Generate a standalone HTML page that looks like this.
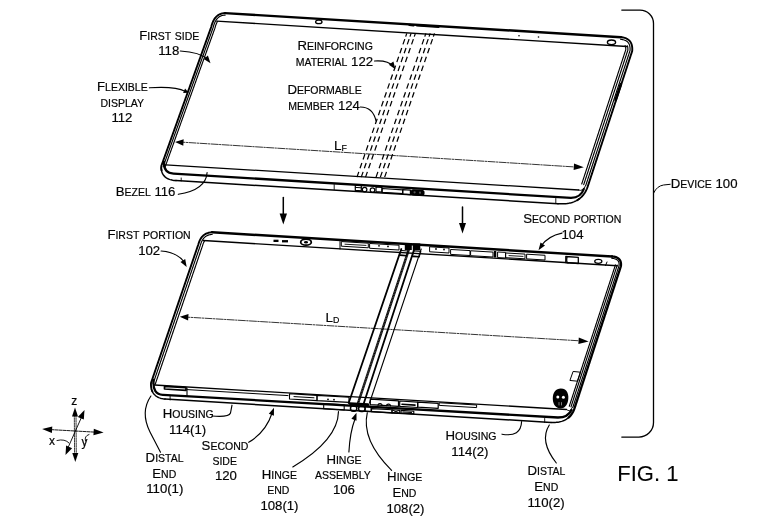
<!DOCTYPE html>
<html><head><meta charset="utf-8"><style>
html,body{margin:0;padding:0;background:#fff;}
svg{display:block;filter:grayscale(1);}
text{font-family:"Liberation Sans", sans-serif;}
</style></head><body>
<svg width="780" height="520" viewBox="0 0 780 520">
<g fill="none" stroke="#000" stroke-linecap="round" stroke-linejoin="round">
<path d="M161.51,170.29 L161.39,169.49 L161.31,168.66 L161.27,167.80 L161.26,166.92 L161.30,166.00 L161.64,165.05 L161.98,164.11 L162.32,163.16 L162.66,162.22 L163.00,161.27 L163.34,160.33 L163.68,159.38 L164.02,158.44 L164.36,157.49 L164.69,156.54 L165.03,155.60 L165.37,154.65 L165.71,153.71 L166.05,152.76 L166.39,151.82 L166.73,150.87 L167.07,149.93 L167.41,148.98 L167.75,148.03 L168.09,147.09 L168.43,146.14 L168.77,145.20 L169.11,144.25 L169.45,143.31 L169.79,142.36 L170.13,141.41 L170.47,140.47 L170.80,139.52 L171.14,138.58 L171.48,137.63 L171.82,136.69 L172.16,135.74 L172.50,134.80 L172.84,133.85 L173.18,132.90 L173.52,131.96 L173.86,131.01 L174.20,130.07 L174.54,129.12 L174.88,128.18 L175.22,127.23 L175.56,126.29 L175.90,125.34 L176.24,124.39 L176.58,123.45 L176.91,122.50 L177.25,121.56 L177.59,120.61 L177.93,119.67 L178.27,118.72 L178.61,117.78 L178.95,116.83 L179.29,115.88 L179.63,114.94 L179.97,113.99 L180.31,113.05 L180.65,112.10 L180.99,111.16 L181.33,110.21 L181.67,109.27 L182.01,108.32 L182.35,107.37 L182.69,106.43 L183.03,105.48 L183.36,104.54 L183.70,103.59 L184.04,102.65 L184.38,101.70 L184.72,100.76 L185.06,99.81 L185.40,98.86 L185.74,97.92 L186.08,96.97 L186.42,96.03 L186.76,95.08 L187.10,94.14 L187.44,93.19 L187.78,92.24 L188.12,91.30 L188.46,90.35 L188.80,89.41 L189.14,88.46 L189.47,87.52 L189.81,86.57 L190.15,85.63 L190.49,84.68 L190.83,83.73 L191.17,82.79 L191.51,81.84 L191.85,80.90 L192.19,79.95 L192.53,79.01 L192.87,78.06 L193.21,77.12 L193.55,76.17 L193.89,75.22 L194.23,74.28 L194.57,73.33 L194.91,72.39 L195.25,71.44 L195.59,70.50 L195.92,69.55 L196.26,68.61 L196.60,67.66 L196.94,66.71 L197.28,65.77 L197.62,64.82 L197.96,63.88 L198.30,62.93 L198.64,61.99 L198.98,61.04 L199.32,60.10 L199.66,59.15 L200.00,58.20 L200.34,57.26 L200.68,56.31 L201.02,55.37 L201.36,54.42 L201.70,53.48 L202.03,52.53 L202.37,51.59 L202.71,50.64 L203.05,49.69 L203.39,48.75 L203.73,47.80 L204.07,46.86 L204.41,45.91 L204.75,44.97 L205.09,44.02 L205.43,43.07 L205.77,42.13 L206.11,41.18 L206.45,40.24 L206.79,39.29 L207.13,38.35 L207.47,37.40 L207.81,36.46 L208.14,35.51 L208.48,34.56 L208.82,33.62 L209.16,32.67 L209.50,31.73 L209.84,30.78 L210.18,29.84 L210.52,28.89 L210.86,27.95 L211.20,27.00 L211.49,25.88 L211.80,24.81 L212.14,23.79 L212.50,22.81 L212.89,21.88 L213.30,20.99 L213.74,20.16 L214.20,19.37 L214.69,18.62 L215.20,17.93 L215.74,17.28 L216.30,16.68 L216.89,16.12 L217.50,15.61 L218.14,15.15 L218.80,14.73 L219.49,14.37 L220.20,14.04 L220.94,13.77 L221.70,13.54 L222.49,13.36 L223.30,13.23 L224.14,13.14 L225.00,13.10" stroke-width="1.9" />
<path d="M225,13.1 L621,37.2" stroke-width="2.4" />
<path d="M621.00,37.20 L621.99,37.31 L622.94,37.46 L623.84,37.66 L624.70,37.89 L625.51,38.16 L626.28,38.48 L626.99,38.83 L627.67,39.22 L628.29,39.66 L628.87,40.13 L629.41,40.65 L629.90,41.20 L630.34,41.80 L630.74,42.43 L631.09,43.11 L631.40,43.82 L631.66,44.58 L631.88,45.38 L632.04,46.21 L632.17,47.09 L632.24,48.01 L632.27,48.96 L632.26,49.96 L632.20,51.00 L631.89,51.95 L631.58,52.90 L631.26,53.85 L630.95,54.80 L630.64,55.75 L630.33,56.70 L630.02,57.65 L629.70,58.61 L629.39,59.56 L629.08,60.51 L628.77,61.46 L628.46,62.41 L628.14,63.36 L627.83,64.31 L627.52,65.26 L627.21,66.21 L626.90,67.16 L626.58,68.11 L626.27,69.06 L625.96,70.01 L625.65,70.96 L625.34,71.92 L625.02,72.87 L624.71,73.82 L624.40,74.77 L624.09,75.72 L623.78,76.67 L623.46,77.62 L623.15,78.57 L622.84,79.52 L622.53,80.47 L622.22,81.42 L621.90,82.37 L621.59,83.32 L621.28,84.27 L620.97,85.23 L620.66,86.18 L620.35,87.13 L620.03,88.08 L619.72,89.03 L619.41,89.98 L619.10,90.93 L618.79,91.88 L618.47,92.83 L618.16,93.78 L617.85,94.73 L617.54,95.68 L617.23,96.63 L616.91,97.58 L616.60,98.54 L616.29,99.49 L615.98,100.44 L615.67,101.39 L615.35,102.34 L615.04,103.29 L614.73,104.24 L614.42,105.19 L614.11,106.14 L613.79,107.09 L613.48,108.04 L613.17,108.99 L612.86,109.94 L612.55,110.89 L612.23,111.85 L611.92,112.80 L611.61,113.75 L611.30,114.70 L610.99,115.65 L610.67,116.60 L610.36,117.55 L610.05,118.50 L609.74,119.45 L609.43,120.40 L609.11,121.35 L608.80,122.30 L608.49,123.25 L608.18,124.20 L607.87,125.15 L607.55,126.11 L607.24,127.06 L606.93,128.01 L606.62,128.96 L606.31,129.91 L605.99,130.86 L605.68,131.81 L605.37,132.76 L605.06,133.71 L604.75,134.66 L604.43,135.61 L604.12,136.56 L603.81,137.51 L603.50,138.46 L603.19,139.42 L602.87,140.37 L602.56,141.32 L602.25,142.27 L601.94,143.22 L601.63,144.17 L601.31,145.12 L601.00,146.07 L600.69,147.02 L600.38,147.97 L600.07,148.92 L599.75,149.87 L599.44,150.82 L599.13,151.77 L598.82,152.73 L598.51,153.68 L598.20,154.63 L597.88,155.58 L597.57,156.53 L597.26,157.48 L596.95,158.43 L596.64,159.38 L596.32,160.33 L596.01,161.28 L595.70,162.23 L595.39,163.18 L595.08,164.13 L594.76,165.08 L594.45,166.04 L594.14,166.99 L593.83,167.94 L593.52,168.89 L593.20,169.84 L592.89,170.79 L592.58,171.74 L592.27,172.69 L591.96,173.64 L591.64,174.59 L591.33,175.54 L591.02,176.49 L590.71,177.44 L590.40,178.39 L590.08,179.35 L589.77,180.30 L589.46,181.25 L589.15,182.20 L588.84,183.15 L588.52,184.10 L588.21,185.05 L587.90,186.00 L587.60,186.88 L587.28,187.73 L586.95,188.56 L586.60,189.37 L586.22,190.16 L585.84,190.92 L585.43,191.67 L585.01,192.39 L584.57,193.09 L584.11,193.76 L583.63,194.42 L583.14,195.05 L582.63,195.66 L582.10,196.25 L581.55,196.82 L580.98,197.37 L580.40,197.89 L579.80,198.39 L579.18,198.87 L578.55,199.33 L577.90,199.76 L577.23,200.18" stroke-width="1.9" />
<path d="M176,180.6 L558,203.7" stroke-width="1.5" />
<path d="M176.00,180.60 L174.95,180.51 L173.94,180.39 L172.97,180.24 L172.03,180.06 L171.14,179.85 L170.28,179.61 L169.47,179.35 L168.69,179.05 L167.95,178.72 L167.25,178.37 L166.59,177.98 L165.96,177.57 L165.38,177.12 L164.83,176.65 L164.33,176.14 L163.86,175.61 L163.43,175.05 L163.04,174.46 L162.69,173.84 L162.37,173.19 L162.10,172.50 L161.86,171.79 L161.67,171.06 L161.51,170.29 L161.39,169.49 L161.31,168.66 L161.27,167.80" stroke-width="1.5" />
<path d="M579.18,198.87 L578.55,199.33 L577.90,199.76 L577.23,200.18 L576.54,200.57 L575.83,200.94 L575.11,201.28 L574.37,201.61 L573.61,201.91 L572.83,202.19 L572.04,202.45 L571.22,202.69 L570.39,202.90 L569.55,203.10 L568.68,203.27 L567.80,203.42 L566.90,203.55 L565.98,203.65 L565.04,203.73 L564.09,203.79 L563.12,203.83 L562.13,203.85 L561.13,203.85 L560.10,203.82 L559.06,203.77 L558.00,203.70" stroke-width="1.5" />
<path d="M163.18,166.68 L163.52,165.73 L163.86,164.78 L164.20,163.84 L164.54,162.89 L164.88,161.95 L165.22,161.00 L165.56,160.06 L165.90,159.11 L166.24,158.17 L166.58,157.22 L166.92,156.27 L167.26,155.33 L167.60,154.38 L167.93,153.44 L168.27,152.49 L168.61,151.55 L168.95,150.60 L169.29,149.66 L169.63,148.71 L169.97,147.76 L170.31,146.82 L170.65,145.87 L170.99,144.93 L171.33,143.98 L171.67,143.04 L172.01,142.09 L172.35,141.15 L172.69,140.20 L173.03,139.25 L173.37,138.31 L173.71,137.36 L174.04,136.42 L174.38,135.47 L174.72,134.53 L175.06,133.58 L175.40,132.63 L175.74,131.69 L176.08,130.74 L176.42,129.80 L176.76,128.85 L177.10,127.91 L177.44,126.96 L177.78,126.02 L178.12,125.07 L178.46,124.12 L178.80,123.18 L179.14,122.23 L179.48,121.29 L179.82,120.34 L180.16,119.40 L180.49,118.45 L180.83,117.51 L181.17,116.56 L181.51,115.61 L181.85,114.67 L182.19,113.72 L182.53,112.78 L182.87,111.83 L183.21,110.89 L183.55,109.94 L183.89,109.00 L184.23,108.05 L184.57,107.10 L184.91,106.16 L185.25,105.21 L185.59,104.27 L185.93,103.32 L186.27,102.38 L186.60,101.43 L186.94,100.49 L187.28,99.54 L187.62,98.59 L187.96,97.65 L188.30,96.70 L188.64,95.76 L188.98,94.81 L189.32,93.87 L189.66,92.92 L190.00,91.98 L190.34,91.03 L190.68,90.08 L191.02,89.14 L191.36,88.19 L191.70,87.25 L192.04,86.30 L192.38,85.36 L192.72,84.41 L193.05,83.46 L193.39,82.52 L193.73,81.57 L194.07,80.63 L194.41,79.68 L194.75,78.74 L195.09,77.79 L195.43,76.85 L195.77,75.90 L196.11,74.95 L196.45,74.01 L196.79,73.06 L197.13,72.12 L197.47,71.17 L197.81,70.23 L198.15,69.28 L198.49,68.34 L198.83,67.39 L199.16,66.44 L199.50,65.50 L199.84,64.55 L200.18,63.61 L200.52,62.66 L200.86,61.72 L201.20,60.77 L201.54,59.83 L201.88,58.88 L202.22,57.93 L202.56,56.99 L202.90,56.04 L203.24,55.10 L203.58,54.15 L203.92,53.21 L204.26,52.26 L204.60,51.32 L204.94,50.37 L205.27,49.42 L205.61,48.48 L205.95,47.53 L206.29,46.59 L206.63,45.64 L206.97,44.70 L207.31,43.75 L207.65,42.81 L207.99,41.86 L208.33,40.91 L208.67,39.97 L209.01,39.02 L209.35,38.08 L209.69,37.13 L210.03,36.19 L210.37,35.24 L210.71,34.29 L211.05,33.35 L211.39,32.40 L211.72,31.46 L212.06,30.51 L212.40,29.57 L212.76,28.57 L213.11,27.60 L213.40,26.47 L213.71,25.40 L214.03,24.45 L214.36,23.54 L214.72,22.68 L215.09,21.88 L215.49,21.12 L215.90,20.42 L216.33,19.76 L216.78,19.16 L217.24,18.60 L217.72,18.08 L218.21,17.62 L218.73,17.19 L219.26,16.81 L219.80,16.46 L220.37,16.16 L220.96,15.89 L221.57,15.67 L222.21,15.48 L222.87,15.32 L223.57,15.21 L224.34,15.13 L225.15,15.09" stroke-width="1.15" />
<path d="M164.97,167.32 L165.31,166.37 L165.65,165.43 L165.99,164.48 L166.33,163.54 L166.67,162.59 L167.01,161.64 L167.35,160.70 L167.69,159.75 L168.03,158.81 L168.37,157.86 L168.70,156.92 L169.04,155.97 L169.38,155.03 L169.72,154.08 L170.06,153.13 L170.40,152.19 L170.74,151.24 L171.08,150.30 L171.42,149.35 L171.76,148.41 L172.10,147.46 L172.44,146.52 L172.78,145.57 L173.12,144.62 L173.46,143.68 L173.80,142.73 L174.14,141.79 L174.48,140.84 L174.81,139.90 L175.15,138.95 L175.49,138.00 L175.83,137.06 L176.17,136.11 L176.51,135.17 L176.85,134.22 L177.19,133.28 L177.53,132.33 L177.87,131.39 L178.21,130.44 L178.55,129.49 L178.89,128.55 L179.23,127.60 L179.57,126.66 L179.91,125.71 L180.25,124.77 L180.59,123.82 L180.93,122.88 L181.26,121.93 L181.60,120.98 L181.94,120.04 L182.28,119.09 L182.62,118.15 L182.96,117.20 L183.30,116.26 L183.64,115.31 L183.98,114.37 L184.32,113.42 L184.66,112.47 L185.00,111.53 L185.34,110.58 L185.68,109.64 L186.02,108.69 L186.36,107.75 L186.70,106.80 L187.04,105.86 L187.37,104.91 L187.71,103.96 L188.05,103.02 L188.39,102.07 L188.73,101.13 L189.07,100.18 L189.41,99.24 L189.75,98.29 L190.09,97.34 L190.43,96.40 L190.77,95.45 L191.11,94.51 L191.45,93.56 L191.79,92.62 L192.13,91.67 L192.47,90.73 L192.81,89.78 L193.15,88.83 L193.48,87.89 L193.82,86.94 L194.16,86.00 L194.50,85.05 L194.84,84.11 L195.18,83.16 L195.52,82.22 L195.86,81.27 L196.20,80.32 L196.54,79.38 L196.88,78.43 L197.22,77.49 L197.56,76.54 L197.90,75.60 L198.24,74.65 L198.58,73.71 L198.92,72.76 L199.26,71.81 L199.60,70.87 L199.93,69.92 L200.27,68.98 L200.61,68.03 L200.95,67.09 L201.29,66.14 L201.63,65.20 L201.97,64.25 L202.31,63.30 L202.65,62.36 L202.99,61.41 L203.33,60.47 L203.67,59.52 L204.01,58.58 L204.35,57.63 L204.69,56.69 L205.03,55.74 L205.37,54.79 L205.71,53.85 L206.04,52.90 L206.38,51.96 L206.72,51.01 L207.06,50.07 L207.40,49.12 L207.74,48.17 L208.08,47.23 L208.42,46.28 L208.76,45.34 L209.10,44.39 L209.44,43.45 L209.78,42.50 L210.12,41.56 L210.46,40.61 L210.80,39.66 L211.14,38.72 L211.48,37.77 L211.82,36.83 L212.15,35.88 L212.49,34.94 L212.83,33.99 L213.17,33.05 L213.51,32.10 L213.85,31.15 L214.19,30.21 L214.56,29.17 L214.92,28.17 L215.22,27.03 L215.52,25.97 L215.82,25.07 L216.13,24.23 L216.46,23.45 L216.80,22.72 L217.15,22.04 L217.52,21.42" stroke-width="1.15" />
<path d="M620.70,39.38 L621.65,39.48 L622.54,39.63 L623.33,39.79 L624.06,39.99 L624.74,40.22 L625.37,40.48 L625.95,40.77 L626.49,41.08 L626.97,41.41 L627.42,41.78 L627.82,42.17 L628.19,42.59 L628.53,43.04 L628.83,43.52 L629.11,44.05 L629.35,44.61 L629.56,45.22 L629.73,45.88 L629.87,46.58 L629.98,47.33 L630.05,48.13 L630.08,48.98 L630.07,49.76 L630.03,50.62 L629.76,51.40 L629.49,52.22 L629.17,53.17 L628.86,54.12 L628.55,55.07 L628.24,56.02 L627.93,56.97 L627.61,57.92 L627.30,58.87 L626.99,59.82 L626.68,60.77 L626.37,61.72 L626.05,62.67 L625.74,63.62 L625.43,64.57 L625.12,65.53 L624.81,66.48 L624.49,67.43 L624.18,68.38 L623.87,69.33 L623.56,70.28 L623.25,71.23 L622.93,72.18 L622.62,73.13 L622.31,74.08 L622.00,75.03 L621.69,75.98 L621.37,76.93 L621.06,77.88 L620.75,78.84 L620.44,79.79 L620.13,80.74 L619.81,81.69 L619.50,82.64 L619.19,83.59 L618.88,84.54 L618.57,85.49 L618.25,86.44 L617.94,87.39 L617.63,88.34 L617.32,89.29 L617.01,90.24 L616.69,91.19 L616.38,92.15 L616.07,93.10 L615.76,94.05 L615.45,95.00 L615.14,95.95 L614.82,96.90 L614.51,97.85 L614.20,98.80 L613.89,99.75 L613.58,100.70 L613.26,101.65 L612.95,102.60 L612.64,103.55 L612.33,104.50 L612.02,105.45 L611.70,106.41 L611.39,107.36 L611.08,108.31 L610.77,109.26 L610.46,110.21 L610.14,111.16 L609.83,112.11 L609.52,113.06 L609.21,114.01 L608.90,114.96 L608.58,115.91 L608.27,116.86 L607.96,117.81 L607.65,118.76 L607.34,119.72 L607.02,120.67 L606.71,121.62 L606.40,122.57 L606.09,123.52 L605.78,124.47 L605.46,125.42 L605.15,126.37 L604.84,127.32 L604.53,128.27 L604.22,129.22 L603.90,130.17 L603.59,131.12 L603.28,132.07 L602.97,133.03 L602.66,133.98 L602.34,134.93 L602.03,135.88 L601.72,136.83 L601.41,137.78 L601.10,138.73 L600.78,139.68 L600.47,140.63 L600.16,141.58 L599.85,142.53 L599.54,143.48 L599.22,144.43 L598.91,145.38 L598.60,146.34 L598.29,147.29 L597.98,148.24 L597.66,149.19 L597.35,150.14 L597.04,151.09 L596.73,152.04 L596.42,152.99 L596.10,153.94 L595.79,154.89 L595.48,155.84 L595.17,156.79 L594.86,157.74 L594.54,158.69 L594.23,159.65 L593.92,160.60 L593.61,161.55 L593.30,162.50 L592.99,163.45 L592.67,164.40 L592.36,165.35 L592.05,166.30 L591.74,167.25 L591.43,168.20 L591.11,169.15 L590.80,170.10 L590.49,171.05 L590.18,172.00 L589.87,172.95 L589.55,173.91 L589.24,174.86 L588.93,175.81 L588.62,176.76 L588.31,177.71 L587.99,178.66 L587.68,179.61 L587.37,180.56 L587.06,181.51 L586.75,182.46 L586.43,183.41 L586.12,184.36 L585.81,185.31" stroke-width="1.15" />
<path d="M627.45,45.87 L627.59,46.38 L627.71,46.95 L627.79,47.58 L627.85,48.26 L627.88,49.00 L627.88,49.57 L627.87,50.23 L627.63,50.86 L627.40,51.53 L627.08,52.48 L626.77,53.43 L626.46,54.38 L626.15,55.33 L625.84,56.28 L625.52,57.23 L625.21,58.18 L624.90,59.14 L624.59,60.09 L624.28,61.04 L623.96,61.99 L623.65,62.94 L623.34,63.89 L623.03,64.84 L622.72,65.79 L622.40,66.74 L622.09,67.69 L621.78,68.64 L621.47,69.59 L621.16,70.54 L620.84,71.49 L620.53,72.45 L620.22,73.40 L619.91,74.35 L619.60,75.30 L619.28,76.25 L618.97,77.20 L618.66,78.15 L618.35,79.10 L618.04,80.05 L617.72,81.00 L617.41,81.95 L617.10,82.90 L616.79,83.85 L616.48,84.80 L616.16,85.75 L615.85,86.71 L615.54,87.66 L615.23,88.61 L614.92,89.56 L614.60,90.51 L614.29,91.46 L613.98,92.41 L613.67,93.36 L613.36,94.31 L613.04,95.26 L612.73,96.21 L612.42,97.16 L612.11,98.11 L611.80,99.06 L611.48,100.02 L611.17,100.97 L610.86,101.92 L610.55,102.87 L610.24,103.82 L609.92,104.77 L609.61,105.72 L609.30,106.67 L608.99,107.62 L608.68,108.57 L608.37,109.52 L608.05,110.47 L607.74,111.42 L607.43,112.37 L607.12,113.33 L606.81,114.28 L606.49,115.23 L606.18,116.18 L605.87,117.13 L605.56,118.08 L605.25,119.03 L604.93,119.98 L604.62,120.93 L604.31,121.88 L604.00,122.83 L603.69,123.78 L603.37,124.73 L603.06,125.68 L602.75,126.64 L602.44,127.59 L602.13,128.54 L601.81,129.49 L601.50,130.44 L601.19,131.39 L600.88,132.34 L600.57,133.29 L600.25,134.24 L599.94,135.19 L599.63,136.14 L599.32,137.09 L599.01,138.04 L598.69,138.99 L598.38,139.95 L598.07,140.90 L597.76,141.85 L597.45,142.80 L597.13,143.75 L596.82,144.70 L596.51,145.65 L596.20,146.60 L595.89,147.55 L595.57,148.50 L595.26,149.45 L594.95,150.40 L594.64,151.35 L594.33,152.30 L594.01,153.25 L593.70,154.21 L593.39,155.16 L593.08,156.11 L592.77,157.06 L592.45,158.01 L592.14,158.96 L591.83,159.91 L591.52,160.86 L591.21,161.81 L590.89,162.76 L590.58,163.71 L590.27,164.66 L589.96,165.61 L589.65,166.56 L589.33,167.52 L589.02,168.47 L588.71,169.42 L588.40,170.37 L588.09,171.32 L587.77,172.27 L587.46,173.22 L587.15,174.17 L586.84,175.12 L586.53,176.07 L586.22,177.02 L585.90,177.97 L585.59,178.92 L585.28,179.87 L584.97,180.83 L584.66,181.78 L584.34,182.73 L584.03,183.68 L583.72,184.63" stroke-width="1.15" />
<path d="M625.10,45.66 L625.22,45.89 L625.33,46.16 L625.44,46.48 L625.55,46.86 L625.64,47.30 L625.71,47.81 L625.75,48.38 L625.78,49.02 L625.79,49.38 L625.80,49.86 L625.59,50.34 L625.40,50.87 L625.09,51.83 L624.78,52.78 L624.46,53.73 L624.15,54.68 L623.84,55.63 L623.53,56.58 L623.22,57.53 L622.90,58.48 L622.59,59.43 L622.28,60.38 L621.97,61.33 L621.66,62.28 L621.34,63.23 L621.03,64.18 L620.72,65.14 L620.41,66.09 L620.10,67.04 L619.78,67.99 L619.47,68.94 L619.16,69.89 L618.85,70.84 L618.54,71.79 L618.22,72.74 L617.91,73.69 L617.60,74.64 L617.29,75.59 L616.98,76.54 L616.66,77.49 L616.35,78.45 L616.04,79.40 L615.73,80.35 L615.42,81.30 L615.11,82.25 L614.79,83.20 L614.48,84.15 L614.17,85.10 L613.86,86.05 L613.55,87.00 L613.23,87.95 L612.92,88.90 L612.61,89.85 L612.30,90.80 L611.99,91.76 L611.67,92.71 L611.36,93.66 L611.05,94.61 L610.74,95.56 L610.43,96.51 L610.11,97.46 L609.80,98.41 L609.49,99.36 L609.18,100.31 L608.87,101.26 L608.55,102.21 L608.24,103.16 L607.93,104.11 L607.62,105.06 L607.31,106.02 L606.99,106.97 L606.68,107.92 L606.37,108.87 L606.06,109.82 L605.75,110.77 L605.43,111.72 L605.12,112.67 L604.81,113.62 L604.50,114.57 L604.19,115.52 L603.87,116.47 L603.56,117.42 L603.25,118.37 L602.94,119.33 L602.63,120.28 L602.31,121.23 L602.00,122.18 L601.69,123.13 L601.38,124.08 L601.07,125.03 L600.75,125.98 L600.44,126.93 L600.13,127.88 L599.82,128.83 L599.51,129.78 L599.19,130.73 L598.88,131.68 L598.57,132.64 L598.26,133.59 L597.95,134.54 L597.63,135.49 L597.32,136.44 L597.01,137.39 L596.70,138.34 L596.39,139.29 L596.07,140.24 L595.76,141.19 L595.45,142.14 L595.14,143.09 L594.83,144.04 L594.51,144.99 L594.20,145.95 L593.89,146.90 L593.58,147.85 L593.27,148.80 L592.96,149.75 L592.64,150.70 L592.33,151.65 L592.02,152.60 L591.71,153.55 L591.40,154.50 L591.08,155.45 L590.77,156.40 L590.46,157.35 L590.15,158.30 L589.84,159.26 L589.52,160.21 L589.21,161.16 L588.90,162.11 L588.59,163.06 L588.28,164.01 L587.96,164.96 L587.65,165.91 L587.34,166.86 L587.03,167.81 L586.72,168.76 L586.40,169.71 L586.09,170.66 L585.78,171.61 L585.47,172.56 L585.16,173.52 L584.84,174.47 L584.53,175.42 L584.22,176.37 L583.91,177.32 L583.60,178.27 L583.28,179.22 L582.97,180.17 L582.66,181.12 L582.35,182.07 L582.04,183.02 L581.72,183.97" stroke-width="1.15" />
<path d="M585.6,185.5 Q583.5,192 578.5,190" stroke-width="1.0" />
<path d="M620.9,84 L615.6,100" stroke-width="2.6" />
<path d="M216.8,21.1 L627,46.5" stroke-width="1.35" />
<path d="M165.5,164.8 L578.5,190" stroke-width="1.3" />
<path d="M164,162 Q163.5,173 173.5,173.6 L571,197.9 Q581,197.5 583.8,189" stroke-width="2.3" />
<line x1="181.2" y1="178" x2="181.2" y2="181" stroke-width="0.9" />
<line x1="555.8" y1="198.5" x2="555.8" y2="203.5" stroke-width="0.9" />
<line x1="334.2" y1="184.5" x2="334.2" y2="189.5" stroke-width="0.9" />
<ellipse cx="611.5" cy="42.3" rx="4.1" ry="2.3" fill="none" stroke-width="1.4"/>
<circle cx="538.5" cy="37" r="0.8" fill="#000" stroke="none"/>
<circle cx="519" cy="35.8" r="0.8" fill="#000" stroke="none"/>
<ellipse cx="318.8" cy="21.9" rx="3.2" ry="1.8" fill="none" stroke-width="1.3"/>
<path d="M409.5,24.8 L413.5,25.4 M417,25.3 L438.5,26.8" stroke-width="2.3" />
<rect x="410.6" y="189.6" width="14" height="6.2" rx="3" fill="#000" stroke="none" transform="rotate(3.6 417.6 192.7)"/>
<circle cx="414.6" cy="192.3" r="1.1" fill="#555" stroke="none"/><circle cx="420" cy="192.7" r="1.1" fill="#555" stroke="none"/>
<path d="M355.3,184.8 L361.3,185.2 L361.3,190.8 L355.3,190.4 Z" stroke-width="1.2" />
<line x1="355.3" y1="187.4" x2="361.3" y2="187.8" stroke-width="1.0" />
<circle cx="364.6" cy="189.6" r="2.3" fill="none" stroke-width="1.2"/>
<circle cx="372.5" cy="190.1" r="2.3" fill="none" stroke-width="1.2"/>
<path d="M376,187 L382,187.4 L382,192 L376,191.6 Z" stroke-width="1.2" />
<path d="M382,188.5 L402.7,189.8 L402.7,193.6 L382,192.3 Z" stroke-width="1.2" />
<path d="M402.7,189.7 L410.4,190.2 L410.4,194.6 L402.7,194.1 Z" stroke-width="1.2" />
<path d="M406.78,33.40 L405.67,36.60 M404.80,39.10 L402.96,44.40 M401.73,47.95 L399.90,53.25 M398.67,56.80 L396.83,62.10 M395.60,65.65 L393.76,70.95 M392.53,74.50 L390.70,79.80 M389.46,83.35 L387.63,88.65 M386.40,92.20 L384.56,97.50 M383.33,101.05 L381.49,106.35 M380.26,109.90 L378.43,115.20 M377.19,118.75 L375.36,124.05 M374.13,127.60 L372.29,132.90 M371.06,136.45 L369.22,141.75 M367.99,145.30 L366.16,150.60 M364.93,154.15 L363.09,159.45 M361.86,163.00 L360.02,168.30 M358.79,171.85 L356.95,177.15 M411.08,33.40 L409.97,36.60 M409.10,39.10 L407.26,44.40 M406.03,47.95 L404.20,53.25 M402.97,56.80 L401.13,62.10 M399.90,65.65 L398.06,70.95 M396.83,74.50 L395.00,79.80 M393.76,83.35 L391.93,88.65 M390.70,92.20 L388.86,97.50 M387.63,101.05 L385.79,106.35 M384.56,109.90 L382.73,115.20 M381.49,118.75 L379.66,124.05 M378.43,127.60 L376.59,132.90 M375.36,136.45 L373.52,141.75 M372.29,145.30 L370.46,150.60 M369.23,154.15 L367.39,159.45 M366.16,163.00 L364.32,168.30 M363.09,171.85 L361.25,177.15 M415.38,33.40 L414.27,36.60 M413.40,39.10 L411.56,44.40 M410.33,47.95 L408.50,53.25 M407.27,56.80 L405.43,62.10 M404.20,65.65 L402.36,70.95 M401.13,74.50 L399.30,79.80 M398.06,83.35 L396.23,88.65 M395.00,92.20 L393.16,97.50 M391.93,101.05 L390.09,106.35 M388.86,109.90 L387.03,115.20 M385.79,118.75 L383.96,124.05 M382.73,127.60 L380.89,132.90 M379.66,136.45 L377.82,141.75 M376.59,145.30 L374.76,150.60 M373.53,154.15 L371.69,159.45 M370.46,163.00 L368.62,168.30 M367.39,171.85 L365.55,177.15 M425.88,33.40 L424.77,36.60 M423.90,39.10 L422.06,44.40 M420.83,47.95 L419.00,53.25 M417.77,56.80 L415.93,62.10 M414.70,65.65 L412.86,70.95 M411.63,74.50 L409.80,79.80 M408.56,83.35 L406.73,88.65 M405.50,92.20 L403.66,97.50 M402.43,101.05 L400.59,106.35 M399.36,109.90 L397.53,115.20 M396.29,118.75 L394.46,124.05 M393.23,127.60 L391.39,132.90 M390.16,136.45 L388.32,141.75 M387.09,145.30 L385.26,150.60 M384.03,154.15 L382.19,159.45 M380.96,163.00 L379.12,168.30 M377.89,171.85 L376.05,177.15 M430.18,33.40 L429.07,36.60 M428.20,39.10 L426.36,44.40 M425.13,47.95 L423.30,53.25 M422.07,56.80 L420.23,62.10 M419.00,65.65 L417.16,70.95 M415.93,74.50 L414.10,79.80 M412.86,83.35 L411.03,88.65 M409.80,92.20 L407.96,97.50 M406.73,101.05 L404.89,106.35 M403.66,109.90 L401.83,115.20 M400.59,118.75 L398.76,124.05 M397.53,127.60 L395.69,132.90 M394.46,136.45 L392.62,141.75 M391.39,145.30 L389.56,150.60 M388.33,154.15 L386.49,159.45 M385.26,163.00 L383.42,168.30 M382.19,171.85 L380.35,177.15 M434.48,33.40 L433.37,36.60 M432.50,39.10 L430.66,44.40 M429.43,47.95 L427.60,53.25 M426.37,56.80 L424.53,62.10 M423.30,65.65 L421.46,70.95 M420.23,74.50 L418.40,79.80 M417.16,83.35 L415.33,88.65 M414.10,92.20 L412.26,97.50 M411.03,101.05 L409.19,106.35 M407.96,109.90 L406.13,115.20 M404.89,118.75 L403.06,124.05 M401.83,127.60 L399.99,132.90 M398.76,136.45 L396.92,141.75 M395.69,145.30 L393.86,150.60 M392.63,154.15 L390.79,159.45 M389.56,163.00 L387.72,168.30 M386.49,171.85 L384.65,177.15" stroke-width="1.25" stroke-linecap="butt"/>
<path d="M178,141.9 L577,167.1" stroke-width="0.8" stroke-dasharray="7 1.3 1.5 1.3"/>
<path d="M175.0,142.0 L183.7,139.2 L183.3,145.8 Z" fill="#000" stroke="none"/>
<path d="M583.8,167.3 L573.6,170.0 L574.0,163.4 Z" fill="#000" stroke="none"/>
<path d="M152.35,391.47 L152.05,390.76 L151.79,390.02 L151.56,389.25 L151.37,388.45 L151.22,387.62 L151.10,386.75 L151.02,385.86 L150.98,384.94 L150.97,383.98 L151.00,383.00 L151.32,382.05 L151.65,381.10 L151.97,380.15 L152.30,379.21 L152.62,378.26 L152.94,377.31 L153.27,376.36 L153.59,375.41 L153.92,374.46 L154.24,373.51 L154.56,372.57 L154.89,371.62 L155.21,370.67 L155.54,369.72 L155.86,368.77 L156.18,367.82 L156.51,366.87 L156.83,365.92 L157.16,364.98 L157.48,364.03 L157.80,363.08 L158.13,362.13 L158.45,361.18 L158.78,360.23 L159.10,359.28 L159.42,358.34 L159.75,357.39 L160.07,356.44 L160.40,355.49 L160.72,354.54 L161.04,353.59 L161.37,352.64 L161.69,351.70 L162.02,350.75 L162.34,349.80 L162.66,348.85 L162.99,347.90 L163.31,346.95 L163.63,346.00 L163.96,345.05 L164.28,344.11 L164.61,343.16 L164.93,342.21 L165.25,341.26 L165.58,340.31 L165.90,339.36 L166.23,338.41 L166.55,337.47 L166.87,336.52 L167.20,335.57 L167.52,334.62 L167.85,333.67 L168.17,332.72 L168.49,331.77 L168.82,330.83 L169.14,329.88 L169.47,328.93 L169.79,327.98 L170.11,327.03 L170.44,326.08 L170.76,325.13 L171.09,324.18 L171.41,323.24 L171.73,322.29 L172.06,321.34 L172.38,320.39 L172.71,319.44 L173.03,318.49 L173.35,317.54 L173.68,316.60 L174.00,315.65 L174.33,314.70 L174.65,313.75 L174.97,312.80 L175.30,311.85 L175.62,310.90 L175.95,309.96 L176.27,309.01 L176.59,308.06 L176.92,307.11 L177.24,306.16 L177.57,305.21 L177.89,304.26 L178.21,303.32 L178.54,302.37 L178.86,301.42 L179.19,300.47 L179.51,299.52 L179.83,298.57 L180.16,297.62 L180.48,296.67 L180.81,295.73 L181.13,294.78 L181.45,293.83 L181.78,292.88 L182.10,291.93 L182.43,290.98 L182.75,290.03 L183.07,289.09 L183.40,288.14 L183.72,287.19 L184.05,286.24 L184.37,285.29 L184.69,284.34 L185.02,283.39 L185.34,282.45 L185.67,281.50 L185.99,280.55 L186.31,279.60 L186.64,278.65 L186.96,277.70 L187.28,276.75 L187.61,275.80 L187.93,274.86 L188.26,273.91 L188.58,272.96 L188.90,272.01 L189.23,271.06 L189.55,270.11 L189.88,269.16 L190.20,268.22 L190.52,267.27 L190.85,266.32 L191.17,265.37 L191.50,264.42 L191.82,263.47 L192.14,262.52 L192.47,261.58 L192.79,260.63 L193.12,259.68 L193.44,258.73 L193.76,257.78 L194.09,256.83 L194.41,255.88 L194.74,254.93 L195.06,253.99 L195.38,253.04 L195.71,252.09 L196.03,251.14 L196.36,250.19 L196.68,249.24 L197.00,248.29 L197.33,247.35 L197.65,246.40 L197.98,245.45 L198.30,244.50 L198.61,243.44 L198.94,242.43 L199.31,241.47 L199.70,240.56 L200.13,239.69 L200.59,238.87 L201.08,238.10 L201.59,237.38 L202.14,236.70 L202.72,236.08 L203.32,235.50 L203.96,234.97 L204.63,234.49 L205.33,234.05 L206.06,233.67 L206.82,233.33 L207.60,233.04 L208.42,232.79 L209.27,232.60 L210.15,232.45 L211.06,232.35 L212.00,232.30" stroke-width="1.9" />
<path d="M212,232.3 L612,256.4" stroke-width="2.5" />
<path d="M612.00,256.40 L613.05,256.52 L614.04,256.68 L614.96,256.89 L615.81,257.15 L616.60,257.45 L617.33,257.80 L617.99,258.19 L618.58,258.63 L619.11,259.11 L619.57,259.65 L619.97,260.22 L620.30,260.85 L620.57,261.52 L620.77,262.23 L620.91,262.99 L620.98,263.80 L620.99,264.66 L620.93,265.55 L620.80,266.50 L620.49,267.46 L620.18,268.41 L619.86,269.37 L619.55,270.32 L619.24,271.28 L618.93,272.24 L618.61,273.19 L618.30,274.15 L617.99,275.10 L617.68,276.06 L617.37,277.02 L617.05,277.97 L616.74,278.93 L616.43,279.89 L616.12,280.84 L615.81,281.80 L615.49,282.75 L615.18,283.71 L614.87,284.67 L614.56,285.62 L614.24,286.58 L613.93,287.53 L613.62,288.49 L613.31,289.45 L613.00,290.40 L612.68,291.36 L612.37,292.31 L612.06,293.27 L611.75,294.23 L611.44,295.18 L611.12,296.14 L610.81,297.09 L610.50,298.05 L610.19,299.01 L609.87,299.96 L609.56,300.92 L609.25,301.88 L608.94,302.83 L608.63,303.79 L608.31,304.74 L608.00,305.70 L607.69,306.66 L607.38,307.61 L607.06,308.57 L606.75,309.52 L606.44,310.48 L606.13,311.44 L605.82,312.39 L605.50,313.35 L605.19,314.30 L604.88,315.26 L604.57,316.22 L604.26,317.17 L603.94,318.13 L603.63,319.08 L603.32,320.04 L603.01,321.00 L602.69,321.95 L602.38,322.91 L602.07,323.86 L601.76,324.82 L601.45,325.78 L601.13,326.73 L600.82,327.69 L600.51,328.65 L600.20,329.60 L599.89,330.56 L599.57,331.51 L599.26,332.47 L598.95,333.43 L598.64,334.38 L598.32,335.34 L598.01,336.29 L597.70,337.25 L597.39,338.21 L597.08,339.16 L596.76,340.12 L596.45,341.07 L596.14,342.03 L595.83,342.99 L595.51,343.94 L595.20,344.90 L594.89,345.85 L594.58,346.81 L594.27,347.77 L593.95,348.72 L593.64,349.68 L593.33,350.64 L593.02,351.59 L592.71,352.55 L592.39,353.50 L592.08,354.46 L591.77,355.42 L591.46,356.37 L591.14,357.33 L590.83,358.28 L590.52,359.24 L590.21,360.20 L589.90,361.15 L589.58,362.11 L589.27,363.06 L588.96,364.02 L588.65,364.98 L588.34,365.93 L588.02,366.89 L587.71,367.84 L587.40,368.80 L587.09,369.76 L586.77,370.71 L586.46,371.67 L586.15,372.62 L585.84,373.58 L585.53,374.54 L585.21,375.49 L584.90,376.45 L584.59,377.41 L584.28,378.36 L583.96,379.32 L583.65,380.27 L583.34,381.23 L583.03,382.19 L582.72,383.14 L582.40,384.10 L582.09,385.05 L581.78,386.01 L581.47,386.97 L581.16,387.92 L580.84,388.88 L580.53,389.83 L580.22,390.79 L579.91,391.75 L579.59,392.70 L579.28,393.66 L578.97,394.61 L578.66,395.57 L578.35,396.53 L578.03,397.48 L577.72,398.44 L577.41,399.40 L577.10,400.35 L576.79,401.31 L576.47,402.26 L576.16,403.22 L575.85,404.18 L575.54,405.13 L575.22,406.09 L574.91,407.04 L574.60,408.00 L574.29,408.90 L573.95,409.77 L573.60,410.61 L573.21,411.42 L572.81,412.20 L572.38,412.95 L571.93,413.68 L571.46,414.38 L570.96,415.04 L570.44,415.68 L569.90,416.29 L569.33,416.87 L568.74,417.43" stroke-width="2.3" />
<path d="M165,399.1 L551,422.4" stroke-width="1.5" />
<path d="M165.00,399.10 L164.00,398.97 L163.05,398.82 L162.12,398.63 L161.24,398.41 L160.39,398.16 L159.58,397.89 L158.80,397.58 L158.06,397.24 L157.36,396.86 L156.69,396.46 L156.06,396.03 L155.47,395.57 L154.92,395.07 L154.40,394.55 L153.91,393.99 L153.47,393.41 L153.06,392.79 L152.68,392.14 L152.35,391.47 L152.05,390.76 L151.79,390.02 L151.56,389.25" stroke-width="1.5" />
<path d="M570.44,415.68 L569.90,416.29 L569.33,416.87 L568.74,417.43 L568.13,417.95 L567.49,418.45 L566.83,418.91 L566.15,419.35 L565.44,419.76 L564.72,420.14 L563.96,420.49 L563.19,420.81 L562.39,421.11 L561.57,421.37 L560.72,421.61 L559.86,421.82 L558.96,422.00 L558.05,422.15 L557.11,422.27 L556.15,422.36 L555.17,422.43 L554.16,422.46 L553.13,422.47 L552.08,422.45 L551.00,422.40" stroke-width="1.5" />
<path d="M153.08,383.71 L153.41,382.76 L153.73,381.81 L154.05,380.87 L154.38,379.92 L154.70,378.97 L155.03,378.02 L155.35,377.07 L155.67,376.12 L156.00,375.17 L156.32,374.22 L156.65,373.28 L156.97,372.33 L157.29,371.38 L157.62,370.43 L157.94,369.48 L158.27,368.53 L158.59,367.58 L158.91,366.64 L159.24,365.69 L159.56,364.74 L159.89,363.79 L160.21,362.84 L160.53,361.89 L160.86,360.94 L161.18,360.00 L161.51,359.05 L161.83,358.10 L162.15,357.15 L162.48,356.20 L162.80,355.25 L163.13,354.30 L163.45,353.35 L163.77,352.41 L164.10,351.46 L164.42,350.51 L164.74,349.56 L165.07,348.61 L165.39,347.66 L165.72,346.71 L166.04,345.77 L166.36,344.82 L166.69,343.87 L167.01,342.92 L167.34,341.97 L167.66,341.02 L167.98,340.07 L168.31,339.13 L168.63,338.18 L168.96,337.23 L169.28,336.28 L169.60,335.33 L169.93,334.38 L170.25,333.43 L170.58,332.48 L170.90,331.54 L171.22,330.59 L171.55,329.64 L171.87,328.69 L172.20,327.74 L172.52,326.79 L172.84,325.84 L173.17,324.90 L173.49,323.95 L173.82,323.00 L174.14,322.05 L174.46,321.10 L174.79,320.15 L175.11,319.20 L175.44,318.26 L175.76,317.31 L176.08,316.36 L176.41,315.41 L176.73,314.46 L177.06,313.51 L177.38,312.56 L177.70,311.62 L178.03,310.67 L178.35,309.72 L178.68,308.77 L179.00,307.82 L179.32,306.87 L179.65,305.92 L179.97,304.97 L180.30,304.03 L180.62,303.08 L180.94,302.13 L181.27,301.18 L181.59,300.23 L181.92,299.28 L182.24,298.33 L182.56,297.39 L182.89,296.44 L183.21,295.49 L183.54,294.54 L183.86,293.59 L184.18,292.64 L184.51,291.69 L184.83,290.75 L185.16,289.80 L185.48,288.85 L185.80,287.90 L186.13,286.95 L186.45,286.00 L186.78,285.05 L187.10,284.10 L187.42,283.16 L187.75,282.21 L188.07,281.26 L188.39,280.31 L188.72,279.36 L189.04,278.41 L189.37,277.46 L189.69,276.52 L190.01,275.57 L190.34,274.62 L190.66,273.67 L190.99,272.72 L191.31,271.77 L191.63,270.82 L191.96,269.88 L192.28,268.93 L192.61,267.98 L192.93,267.03 L193.25,266.08 L193.58,265.13 L193.90,264.18 L194.23,263.23 L194.55,262.29 L194.87,261.34 L195.20,260.39 L195.52,259.44 L195.85,258.49 L196.17,257.54 L196.49,256.59 L196.82,255.65 L197.14,254.70 L197.47,253.75 L197.79,252.80 L198.11,251.85 L198.44,250.90 L198.76,249.95 L199.09,249.01 L199.41,248.06 L199.73,247.11 L200.07,246.13 L200.39,245.18 L200.69,244.14 L201.01,243.17 L201.35,242.30 L201.70,241.48 L202.08,240.71 L202.48,240.00 L202.90,239.33 L203.34,238.71 L203.80,238.14 L204.29,237.62 L204.79,237.14 L205.31,236.71 L205.86,236.31 L206.43,235.96 L207.02,235.64 L207.65,235.36 L208.30,235.12 L208.98,234.92 L209.70,234.76 L210.45,234.63 L211.30,234.54 L212.18,234.49" stroke-width="1.15" />
<path d="M155.16,384.42 L155.49,383.47 L155.81,382.52 L156.14,381.58 L156.46,380.63 L156.78,379.68 L157.11,378.73 L157.43,377.78 L157.76,376.83 L158.08,375.88 L158.40,374.94 L158.73,373.99 L159.05,373.04 L159.38,372.09 L159.70,371.14 L160.02,370.19 L160.35,369.24 L160.67,368.30 L161.00,367.35 L161.32,366.40 L161.64,365.45 L161.97,364.50 L162.29,363.55 L162.62,362.60 L162.94,361.65 L163.26,360.71 L163.59,359.76 L163.91,358.81 L164.24,357.86 L164.56,356.91 L164.88,355.96 L165.21,355.01 L165.53,354.07 L165.85,353.12 L166.18,352.17 L166.50,351.22 L166.83,350.27 L167.15,349.32 L167.47,348.37 L167.80,347.43 L168.12,346.48 L168.45,345.53 L168.77,344.58 L169.09,343.63 L169.42,342.68 L169.74,341.73 L170.07,340.79 L170.39,339.84 L170.71,338.89 L171.04,337.94 L171.36,336.99 L171.69,336.04 L172.01,335.09 L172.33,334.14 L172.66,333.20 L172.98,332.25 L173.31,331.30 L173.63,330.35 L173.95,329.40 L174.28,328.45 L174.60,327.50 L174.93,326.56 L175.25,325.61 L175.57,324.66 L175.90,323.71 L176.22,322.76 L176.55,321.81 L176.87,320.86 L177.19,319.92 L177.52,318.97 L177.84,318.02 L178.17,317.07 L178.49,316.12 L178.81,315.17 L179.14,314.22 L179.46,313.27 L179.79,312.33 L180.11,311.38 L180.43,310.43 L180.76,309.48 L181.08,308.53 L181.41,307.58 L181.73,306.63 L182.05,305.69 L182.38,304.74 L182.70,303.79 L183.03,302.84 L183.35,301.89 L183.67,300.94 L184.00,299.99 L184.32,299.05 L184.65,298.10 L184.97,297.15 L185.29,296.20 L185.62,295.25 L185.94,294.30 L186.27,293.35 L186.59,292.40 L186.91,291.46 L187.24,290.51 L187.56,289.56 L187.89,288.61 L188.21,287.66 L188.53,286.71 L188.86,285.76 L189.18,284.82 L189.50,283.87 L189.83,282.92 L190.15,281.97 L190.48,281.02 L190.80,280.07 L191.12,279.12 L191.45,278.18 L191.77,277.23 L192.10,276.28 L192.42,275.33 L192.74,274.38 L193.07,273.43 L193.39,272.48 L193.72,271.54 L194.04,270.59 L194.36,269.64 L194.69,268.69 L195.01,267.74 L195.34,266.79 L195.66,265.84 L195.98,264.89 L196.31,263.95 L196.63,263.00 L196.96,262.05 L197.28,261.10 L197.60,260.15 L197.93,259.20 L198.25,258.25 L198.58,257.31 L198.90,256.36 L199.22,255.41 L199.55,254.46 L199.87,253.51 L200.20,252.56 L200.52,251.61 L200.84,250.67 L201.17,249.72 L201.49,248.77 L201.82,247.82 L202.16,246.82 L202.48,245.86 L202.78,244.84 L203.09,243.91 L203.38,243.13 L203.70,242.40 L204.03,241.73 L204.37,241.12 L204.73,240.56" stroke-width="1.15" />
<path d="M611.74,258.28 L612.74,258.39 L613.67,258.55 L614.48,258.73 L615.20,258.95 L615.86,259.19 L616.43,259.47 L616.94,259.77 L617.37,260.10 L617.75,260.44 L618.07,260.81 L618.35,261.21 L618.58,261.65 L618.77,262.13 L618.92,262.66 L619.02,263.24 L619.08,263.89 L619.09,264.60 L619.04,265.30 L618.94,266.10 L618.66,266.95 L618.37,267.82 L618.06,268.78 L617.75,269.73 L617.43,270.69 L617.12,271.65 L616.81,272.60 L616.50,273.56 L616.18,274.52 L615.87,275.47 L615.56,276.43 L615.25,277.38 L614.94,278.34 L614.62,279.30 L614.31,280.25 L614.00,281.21 L613.69,282.16 L613.37,283.12 L613.06,284.08 L612.75,285.03 L612.44,285.99 L612.13,286.94 L611.81,287.90 L611.50,288.86 L611.19,289.81 L610.88,290.77 L610.57,291.72 L610.25,292.68 L609.94,293.64 L609.63,294.59 L609.32,295.55 L609.00,296.50 L608.69,297.46 L608.38,298.42 L608.07,299.37 L607.76,300.33 L607.44,301.29 L607.13,302.24 L606.82,303.20 L606.51,304.15 L606.20,305.11 L605.88,306.07 L605.57,307.02 L605.26,307.98 L604.95,308.93 L604.63,309.89 L604.32,310.85 L604.01,311.80 L603.70,312.76 L603.39,313.71 L603.07,314.67 L602.76,315.63 L602.45,316.58 L602.14,317.54 L601.82,318.49 L601.51,319.45 L601.20,320.41 L600.89,321.36 L600.58,322.32 L600.26,323.28 L599.95,324.23 L599.64,325.19 L599.33,326.14 L599.02,327.10 L598.70,328.06 L598.39,329.01 L598.08,329.97 L597.77,330.92 L597.45,331.88 L597.14,332.84 L596.83,333.79 L596.52,334.75 L596.21,335.70 L595.89,336.66 L595.58,337.62 L595.27,338.57 L594.96,339.53 L594.65,340.48 L594.33,341.44 L594.02,342.40 L593.71,343.35 L593.40,344.31 L593.08,345.27 L592.77,346.22 L592.46,347.18 L592.15,348.13 L591.84,349.09 L591.52,350.05 L591.21,351.00 L590.90,351.96 L590.59,352.91 L590.27,353.87 L589.96,354.83 L589.65,355.78 L589.34,356.74 L589.03,357.69 L588.71,358.65 L588.40,359.61 L588.09,360.56 L587.78,361.52 L587.47,362.47 L587.15,363.43 L586.84,364.39 L586.53,365.34 L586.22,366.30 L585.90,367.25 L585.59,368.21 L585.28,369.17 L584.97,370.12 L584.66,371.08 L584.34,372.04 L584.03,372.99 L583.72,373.95 L583.41,374.90 L583.10,375.86 L582.78,376.82 L582.47,377.77 L582.16,378.73 L581.85,379.68 L581.53,380.64 L581.22,381.60 L580.91,382.55 L580.60,383.51 L580.29,384.46 L579.97,385.42 L579.66,386.38 L579.35,387.33 L579.04,388.29 L578.72,389.24 L578.41,390.20 L578.10,391.16 L577.79,392.11 L577.48,393.07 L577.16,394.03 L576.85,394.98 L576.54,395.94 L576.23,396.89 L575.92,397.85 L575.60,398.81 L575.29,399.76 L574.98,400.72 L574.67,401.67 L574.35,402.63 L574.04,403.59 L573.73,404.54 L573.42,405.50 L573.11,406.45 L572.79,407.41" stroke-width="1.15" />
<path d="M617.16,265.05 L617.09,265.70 L616.83,266.44 L616.56,267.23 L616.25,268.19 L615.94,269.14 L615.63,270.10 L615.31,271.06 L615.00,272.01 L614.69,272.97 L614.38,273.93 L614.07,274.88 L613.75,275.84 L613.44,276.79 L613.13,277.75 L612.82,278.71 L612.51,279.66 L612.19,280.62 L611.88,281.57 L611.57,282.53 L611.26,283.49 L610.94,284.44 L610.63,285.40 L610.32,286.35 L610.01,287.31 L609.70,288.27 L609.38,289.22 L609.07,290.18 L608.76,291.13 L608.45,292.09 L608.13,293.05 L607.82,294.00 L607.51,294.96 L607.20,295.92 L606.89,296.87 L606.57,297.83 L606.26,298.78 L605.95,299.74 L605.64,300.70 L605.33,301.65 L605.01,302.61 L604.70,303.56 L604.39,304.52 L604.08,305.48 L603.76,306.43 L603.45,307.39 L603.14,308.34 L602.83,309.30 L602.52,310.26 L602.20,311.21 L601.89,312.17 L601.58,313.12 L601.27,314.08 L600.96,315.04 L600.64,315.99 L600.33,316.95 L600.02,317.91 L599.71,318.86 L599.39,319.82 L599.08,320.77 L598.77,321.73 L598.46,322.69 L598.15,323.64 L597.83,324.60 L597.52,325.55 L597.21,326.51 L596.90,327.47 L596.58,328.42 L596.27,329.38 L595.96,330.33 L595.65,331.29 L595.34,332.25 L595.02,333.20 L594.71,334.16 L594.40,335.11 L594.09,336.07 L593.78,337.03 L593.46,337.98 L593.15,338.94 L592.84,339.89 L592.53,340.85 L592.21,341.81 L591.90,342.76 L591.59,343.72 L591.28,344.68 L590.97,345.63 L590.65,346.59 L590.34,347.54 L590.03,348.50 L589.72,349.46 L589.41,350.41 L589.09,351.37 L588.78,352.32 L588.47,353.28 L588.16,354.24 L587.84,355.19 L587.53,356.15 L587.22,357.10 L586.91,358.06 L586.60,359.02 L586.28,359.97 L585.97,360.93 L585.66,361.88 L585.35,362.84 L585.03,363.80 L584.72,364.75 L584.41,365.71 L584.10,366.67 L583.79,367.62 L583.47,368.58 L583.16,369.53 L582.85,370.49 L582.54,371.45 L582.23,372.40 L581.91,373.36 L581.60,374.31 L581.29,375.27 L580.98,376.23 L580.66,377.18 L580.35,378.14 L580.04,379.09 L579.73,380.05 L579.42,381.01 L579.10,381.96 L578.79,382.92 L578.48,383.87 L578.17,384.83 L577.86,385.79 L577.54,386.74 L577.23,387.70 L576.92,388.66 L576.61,389.61 L576.29,390.57 L575.98,391.52 L575.67,392.48 L575.36,393.44 L575.05,394.39 L574.73,395.35 L574.42,396.30 L574.11,397.26 L573.80,398.22 L573.48,399.17 L573.17,400.13 L572.86,401.08 L572.55,402.04 L572.24,403.00 L571.92,403.95 L571.61,404.91 L571.30,405.86 L570.99,406.82" stroke-width="1.15" />
<path d="M615.38,264.81 L615.33,265.32 L615.09,265.95 L614.85,266.67 L614.54,267.63 L614.23,268.59 L613.92,269.54 L613.60,270.50 L613.29,271.45 L612.98,272.41 L612.67,273.37 L612.35,274.32 L612.04,275.28 L611.73,276.23 L611.42,277.19 L611.11,278.15 L610.79,279.10 L610.48,280.06 L610.17,281.02 L609.86,281.97 L609.55,282.93 L609.23,283.88 L608.92,284.84 L608.61,285.80 L608.30,286.75 L607.98,287.71 L607.67,288.66 L607.36,289.62 L607.05,290.58 L606.74,291.53 L606.42,292.49 L606.11,293.44 L605.80,294.40 L605.49,295.36 L605.18,296.31 L604.86,297.27 L604.55,298.22 L604.24,299.18 L603.93,300.14 L603.61,301.09 L603.30,302.05 L602.99,303.01 L602.68,303.96 L602.37,304.92 L602.05,305.87 L601.74,306.83 L601.43,307.79 L601.12,308.74 L600.80,309.70 L600.49,310.65 L600.18,311.61 L599.87,312.57 L599.56,313.52 L599.24,314.48 L598.93,315.43 L598.62,316.39 L598.31,317.35 L598.00,318.30 L597.68,319.26 L597.37,320.21 L597.06,321.17 L596.75,322.13 L596.43,323.08 L596.12,324.04 L595.81,324.99 L595.50,325.95 L595.19,326.91 L594.87,327.86 L594.56,328.82 L594.25,329.78 L593.94,330.73 L593.63,331.69 L593.31,332.64 L593.00,333.60 L592.69,334.56 L592.38,335.51 L592.06,336.47 L591.75,337.42 L591.44,338.38 L591.13,339.34 L590.82,340.29 L590.50,341.25 L590.19,342.20 L589.88,343.16 L589.57,344.12 L589.25,345.07 L588.94,346.03 L588.63,346.98 L588.32,347.94 L588.01,348.90 L587.69,349.85 L587.38,350.81 L587.07,351.77 L586.76,352.72 L586.45,353.68 L586.13,354.63 L585.82,355.59 L585.51,356.55 L585.20,357.50 L584.88,358.46 L584.57,359.41 L584.26,360.37 L583.95,361.33 L583.64,362.28 L583.32,363.24 L583.01,364.19 L582.70,365.15 L582.39,366.11 L582.08,367.06 L581.76,368.02 L581.45,368.97 L581.14,369.93 L580.83,370.89 L580.51,371.84 L580.20,372.80 L579.89,373.76 L579.58,374.71 L579.27,375.67 L578.95,376.62 L578.64,377.58 L578.33,378.54 L578.02,379.49 L577.70,380.45 L577.39,381.40 L577.08,382.36 L576.77,383.32 L576.46,384.27 L576.14,385.23 L575.83,386.18 L575.52,387.14 L575.21,388.10 L574.90,389.05 L574.58,390.01 L574.27,390.96 L573.96,391.92 L573.65,392.88 L573.33,393.83 L573.02,394.79 L572.71,395.74 L572.40,396.70 L572.09,397.66 L571.77,398.61 L571.46,399.57 L571.15,400.53 L570.84,401.48 L570.53,402.44 L570.21,403.39 L569.90,404.35 L569.59,405.31 L569.28,406.26" stroke-width="1.15" />
<path d="M572.3,407.5 Q570,413 566.5,409.5" stroke-width="0.9" />
<path d="M203.3,240.5 L617.3,265.7" stroke-width="1.4" />
<path d="M154.5,385 L566.5,409.5" stroke-width="1.3" />
<path d="M153.5,380 Q152.5,395 163,394.8 L558,417.5 Q568,417.5 571.5,410" stroke-width="2.3" />
<line x1="170.1" y1="395.5" x2="170.1" y2="400" stroke-width="0.9" />
<line x1="544.7" y1="418.5" x2="544.7" y2="422.5" stroke-width="0.9" />
<path d="M164.5,386.4 L186,387.7 L186,390.3 L164.5,389 Z" stroke-width="1.7" />
<line x1="187" y1="388" x2="187" y2="395.8" stroke-width="1.1" />
<line x1="187" y1="389.6" x2="288" y2="395.6" stroke-width="1.0" />
<path d="M289.5,393.8 L317,395.4 L317,400.6 L289.5,399 Z" stroke-width="1.1" />
<line x1="294" y1="396.6" x2="314" y2="397.8" stroke-width="1.0" />
<path d="M317,395.4 L349,397.3 L349,402.4 L317,400.6 Z" stroke-width="1.1" />
<circle cx="328" cy="399.3" r="0.9" fill="#000" stroke="none"/><circle cx="334" cy="399.7" r="0.9" fill="#000" stroke="none"/>
<path d="M323.7,403.5 L344.2,404.7 L344.2,410 L323.7,408.8 Z" stroke-width="1.1" />
<path d="M439.6,402.8 L476.6,405 L476.6,407.6 L439.6,405.4 Z" stroke-width="1.0" />
<path d="M370.3,399.2 L398.5,400.9 L398.5,406.3 L370.3,404.6 Z" stroke-width="1.2" />
<path d="M378,405.1 A2,1.6 0 0 1 382,405.3 M386.5,405.6 A2,1.6 0 0 1 390.5,405.8" stroke-width="1.2" />
<path d="M399.7,401.0 L417.7,402.1 L417.7,407.5 L399.7,406.4 Z" stroke-width="1.2" />
<line x1="402" y1="404.3" x2="415" y2="405.1" stroke-width="1.6" />
<path d="M417.7,402.1 L438.2,403.3 L438.2,408.3 L417.7,407.1 Z" stroke-width="1.2" />
<path d="M371.5,408.6 L392,409.8 L392,412.9 L371.5,411.7 Z" stroke-width="1.1" />
<path d="M392,409.8 L399.7,410.3 L399.7,413.4 L392,412.9 Z" stroke-width="1.1" />
<path d="M393,410.3 L398.7,413 M398.7,410.6 L393,412.7" stroke-width="0.9" />
<path d="M401,410.4 L413.8,411.2 L413.8,413.9 L401,413.1 Z" stroke-width="1.1" />
<line x1="403" y1="412" x2="411.5" y2="412.5" stroke-width="1.2" />
<path d="M401.3,249 L348.7,403" stroke-width="1.8" />
<path d="M408.2,249 L357.3,403" stroke-width="0.9" />
<path d="M409.8,249 L358.9,403" stroke-width="0.9" />
<path d="M409.0,249 L358.1,403" stroke-width="1.2" stroke-dasharray="0.6 1.2"/>
<path d="M414.3,249 L363.9,403" stroke-width="1.8" />
<path d="M421.2,249 L369.5,403" stroke-width="1.1" />
<path d="M183,316.9 L581,340.9" stroke-width="0.8" stroke-dasharray="7 1.3 1.5 1.3"/>
<path d="M179.8,316.7 L188.5,313.9 L188.1,320.5 Z" fill="#000" stroke="none"/>
<path d="M588.6,341.4 L578.4,344.1 L578.8,337.5 Z" fill="#000" stroke="none"/>
<path d="M560.8,388.5 C567.5,388.5 569.3,395 568,401 C567,405.8 564,408.5 560.5,408.5 C556.5,408.5 553,405 552.8,399 C552.6,392.5 556,388.5 560.8,388.5 Z" fill="#000" stroke="none"/>
<circle cx="557.8" cy="397" r="1.5" fill="#fff" stroke="none"/><circle cx="563.4" cy="397.3" r="1.5" fill="#fff" stroke="none"/>
<path d="M559,402.5 L559,405 M561.5,402.6 L561.5,405" stroke-width="0.5" stroke="#fff"/>
<path d="M573.5,371.5 L580.5,372.2 L577.5,381.2 L570.3,380.5 Z" stroke-width="1.0" />
<rect x="273.5" y="239.7" width="5" height="2.3" fill="#000" stroke="none"/>
<rect x="282" y="240.1" width="6" height="2.3" fill="#000" stroke="none"/>
<ellipse cx="306" cy="242.2" rx="5.3" ry="3" fill="none" stroke-width="1.8"/>
<ellipse cx="306" cy="242.2" rx="2" ry="1.3" fill="#000" stroke="none"/>
<line x1="340" y1="241.5" x2="340" y2="249" stroke-width="1.0" />
<path d="M341.7,241.6 L368.3,243.2 L368.3,247.8 L341.7,246.2 Z" stroke-width="1.0" />
<line x1="345" y1="244.2" x2="366" y2="245.4" stroke-width="0.9" />
<path d="M370,243.5 L399,245.2 L399,250 L370,248.3 Z" stroke-width="1.0" />
<circle cx="379" cy="245.8" r="0.9" fill="#000" stroke="none"/><circle cx="388" cy="246.4" r="0.9" fill="#000" stroke="none"/>
<rect x="404.8" y="243" width="7" height="7" fill="#000" stroke="none"/>
<rect x="412.8" y="243.4" width="7.5" height="7" fill="#000" stroke="none"/>
<path d="M401.3,250.5 L408.2,251 L406.6,255.5 L399.7,255 Z" stroke-width="1.0" />
<line x1="399.7" y1="255.3" x2="406.6" y2="255.8" stroke-width="1.6" />
<path d="M414.3,251 L421,251.4 L419.3,256.6 L412.6,256.2 Z" stroke-width="1.0" />
<line x1="412.6" y1="256.4" x2="419.3" y2="256.8" stroke-width="1.6" />
<path d="M430,246.8 L449,248 L449,253 L430,251.8 Z" stroke-width="1.0" />
<circle cx="436" cy="249" r="0.9" fill="#000" stroke="none"/><circle cx="444" cy="249.5" r="0.9" fill="#000" stroke="none"/>
<path d="M451,249.5 L470,250.6 L470,255.5 L451,254.4 Z" stroke-width="1.0" />
<path d="M471,250.8 L493,252.1 L493,257 L471,255.7 Z" stroke-width="1.0" />
<rect x="493.8" y="251" width="2.5" height="6.5" fill="#000" stroke="none"/>
<path d="M498,252 L505.6,252.4 L505.6,258 L498,257.6 Z" stroke-width="1.0" />
<path d="M506,253 L525,254.1 L525,258.8 L506,257.7 Z" stroke-width="1.0" />
<line x1="509" y1="255.6" x2="523" y2="256.4" stroke-width="0.9" />
<path d="M527,254.2 L545,255.3 L545,260 L527,258.9 Z" stroke-width="1.0" />
<path d="M565.8,256.5 L578.3,257.3 L578.3,263.5 L565.8,262.7 Z" stroke-width="1.3" />
<path d="M567,257 Q566,262 568,263" stroke-width="1.3" />
<ellipse cx="598.3" cy="261.3" rx="3.6" ry="2" fill="none" stroke-width="1.2"/>
<line x1="607" y1="262" x2="605.5" y2="265.5" stroke-width="1.0" />
<path d="M350,403.6 L368,404.6" stroke-width="2.8" />
<rect x="350.5" y="405.6" width="6.3" height="5.6" rx="2.6" fill="none" stroke="#000" stroke-width="1.5"/>
<rect x="358.6" y="406.0" width="6.5" height="5.4" rx="2.6" fill="none" stroke="#000" stroke-width="1.5"/>
<path d="M365.5,406 L371,406.3 L371,411.5 L365.5,411.2 Z" stroke-width="1.0" />
<line x1="283.3" y1="197.5" x2="283.3" y2="216" stroke-width="1.5" />
<path d="M283.3,224.6 L279.6,213.6 L287.0,213.6 Z" fill="#000" stroke="none"/>
<line x1="462.5" y1="206.9" x2="462.5" y2="225" stroke-width="1.5" />
<path d="M462.5,233.6 L459.0,223.1 L466.0,223.1 Z" fill="#000" stroke="none"/>
<path d="M621.8,10.1 L640,10.1 A13.5,13.5 0 0 1 653.5,23.6 L653.5,422.5 A14.6,14.6 0 0 1 638.9,437.1 L621.8,437.1" stroke-width="1.3" />
<path d="M653.8,192.7 Q657,186 663.5,185 L670.2,184.3" stroke-width="1.0" />
<path d="M180.3,51 Q200,52 207.5,59.5" stroke-width="1.15" />
<path d="M210.5,63.2 L203.7,59.1 L207.9,55.6 Z" fill="#000" stroke="none"/>
<path d="M149.4,87.8 Q175,86 185.5,91.5" stroke-width="1.15" />
<path d="M188.7,92.8 L183.1,93.1 L185.1,88.5 Z" fill="#000" stroke="none"/>
<path d="M374.5,61 Q388,60 393.5,66.5" stroke-width="1.15" />
<path d="M395.4,69.3 L388.9,64.7 L393.4,61.6 Z" fill="#000" stroke="none"/>
<path d="M360.3,107 Q373,107 376,121" stroke-width="1.15" />
<path d="M178.3,194.3 Q206,190 207.1,172.5" stroke-width="1.15" />
<path d="M561.9,233.1 Q548,236 541,246" stroke-width="1.15" />
<path d="M538.5,250.2 L540.5,242.5 L545.0,245.6 Z" fill="#000" stroke="none"/>
<path d="M161.1,251 Q177,252 184.5,262.5" stroke-width="1.15" />
<path d="M186.7,266.9 L180.5,261.9 L185.2,259.0 Z" fill="#000" stroke="none"/>
<path d="M211.9,416 Q229,417.5 230.5,413 L232,405.2" stroke-width="1.15" />
<path d="M150.9,396 Q140,412 150,432 L160.5,452.2" stroke-width="1.15" />
<path d="M248.7,442.3 Q266,432 272.3,412.5" stroke-width="1.15" />
<path d="M274.0,407.7 L273.9,415.7 L268.8,413.8 Z" fill="#000" stroke="none"/>
<path d="M338.5,411.5 Q338,440 292.8,466.9" stroke-width="1.15" />
<path d="M348.9,452 Q350,432 355,419" stroke-width="1.15" />
<path d="M356.5,412.7 L356.5,420.7 L351.4,418.8 Z" fill="#000" stroke="none"/>
<path d="M367.3,412.7 Q361,440 391.6,470.4" stroke-width="1.15" />
<path d="M502,434.2 Q521,437.5 521.6,421.6" stroke-width="1.15" />
<path d="M549.3,425 Q539,441 556.3,463" stroke-width="1.15" />
<path d="M47,429.4 L98,432.3" stroke-width="0.9" stroke-dasharray="3 1"/>
<path d="M42.1,429.1 L52.3,426.4 L51.9,432.9 Z" fill="#000" stroke="none"/>
<path d="M103.6,432.6 L93.4,435.3 L93.8,428.8 Z" fill="#000" stroke="none"/>
<path d="M74.3,413 L74.6,456" stroke-width="0.8" stroke-dasharray="1.5 1"/>
<path d="M76.0,413 L76.3,456" stroke-width="0.8" stroke-dasharray="1.5 1"/>
<path d="M75.0,407.5 L78.0,416.5 L72.0,416.5 Z" fill="#000" stroke="none"/>
<path d="M75.3,462.0 L72.3,453.0 L78.3,453.0 Z" fill="#000" stroke="none"/>
<path d="M82.5,415 L67,450" stroke-width="0.9" />
<path d="M84.5,410.1 L83.8,419.6 L77.8,417.0 Z" fill="#000" stroke="none"/>
<path d="M65.5,455.1 L66.1,445.6 L72.1,448.2 Z" fill="#000" stroke="none"/>
<path d="M57,440.5 Q65,438.5 69,443" stroke-width="0.9" />
<path d="M89,434.5 Q84,436 85.5,441" stroke-width="0.9" />
<g fill="#000" stroke="#000" stroke-width="0.2" opacity="0.99" font-family="Liberation Sans, sans-serif">
<text x="139.2" y="39.6" letter-spacing="0"><tspan font-size="13.2">F</tspan><tspan font-size="10.5">IRST</tspan><tspan font-size="13.2"> </tspan><tspan font-size="10.5">SIDE</tspan></text>
<text x="158.2" y="54.8" letter-spacing="0"><tspan font-size="13.2">118</tspan></text>
<text x="97.0" y="90.6" letter-spacing="0"><tspan font-size="13.2">F</tspan><tspan font-size="10.5">LEXIBLE</tspan></text>
<text x="100.4" y="106.7" letter-spacing="0"><tspan font-size="10.5">DISPLAY</tspan></text>
<text x="111.4" y="122.1" letter-spacing="0"><tspan font-size="13.2">112</tspan></text>
<text x="115.7" y="196.4" letter-spacing="0"><tspan font-size="13.2">B</tspan><tspan font-size="10.5">EZEL</tspan><tspan font-size="13.2"> 116</tspan></text>
<text x="297.4" y="50.1" letter-spacing="0"><tspan font-size="13.2">R</tspan><tspan font-size="10.5">EINFORCING</tspan></text>
<text x="295.7" y="66.0" letter-spacing="0"><tspan font-size="10.5">MATERIAL</tspan><tspan font-size="13.2"> 122</tspan></text>
<text x="287.4" y="93.9" letter-spacing="0"><tspan font-size="13.2">D</tspan><tspan font-size="10.5">EFORMABLE</tspan></text>
<text x="288.2" y="109.5" letter-spacing="0"><tspan font-size="10.5">MEMBER</tspan><tspan font-size="13.2"> 124</tspan></text>
<text x="334" y="150.0" font-size="13.5">L<tspan font-size="8.8" dy="1.2">F</tspan></text>
<text x="670.8" y="188.1" letter-spacing="0"><tspan font-size="13.2">D</tspan><tspan font-size="10.5">EVICE</tspan><tspan font-size="13.2"> 100</tspan></text>
<text x="523.3" y="222.6" letter-spacing="0"><tspan font-size="13.2">S</tspan><tspan font-size="10.5">ECOND</tspan><tspan font-size="13.2"> </tspan><tspan font-size="10.5">PORTION</tspan></text>
<text x="561.5" y="238.5" letter-spacing="0"><tspan font-size="13.2">104</tspan></text>
<text x="107.4" y="238.9" letter-spacing="0"><tspan font-size="13.2">F</tspan><tspan font-size="10.5">IRST</tspan><tspan font-size="13.2"> </tspan><tspan font-size="10.5">PORTION</tspan></text>
<text x="138.2" y="254.8" letter-spacing="0"><tspan font-size="13.2">102</tspan></text>
<text x="325.4" y="321.7" font-size="13.5">L<tspan font-size="8.8" dy="1.6">D</tspan></text>
<text x="162.7" y="417.7" letter-spacing="0"><tspan font-size="13.2">H</tspan><tspan font-size="10.5">OUSING</tspan></text>
<text x="169.1" y="433.9" letter-spacing="0"><tspan font-size="13.2">114(1)</tspan></text>
<text x="145.6" y="462.2" letter-spacing="0"><tspan font-size="13.2">D</tspan><tspan font-size="10.5">ISTAL</tspan></text>
<text x="152.3" y="477.6" letter-spacing="0"><tspan font-size="13.2">E</tspan><tspan font-size="10.5">ND</tspan></text>
<text x="146.2" y="493.2" letter-spacing="0"><tspan font-size="13.2">110(1)</tspan></text>
<text x="201.6" y="449.5" letter-spacing="0"><tspan font-size="13.2">S</tspan><tspan font-size="10.5">ECOND</tspan></text>
<text x="212.4" y="464.5" letter-spacing="0"><tspan font-size="10.5">SIDE</tspan></text>
<text x="214.9" y="480.3" letter-spacing="0"><tspan font-size="13.2">120</tspan></text>
<text x="261.7" y="478.8" letter-spacing="0"><tspan font-size="13.2">H</tspan><tspan font-size="10.5">INGE</tspan></text>
<text x="267.2" y="494.0" letter-spacing="0"><tspan font-size="10.5">END</tspan></text>
<text x="260.4" y="510.0" letter-spacing="0"><tspan font-size="13.2">108(1)</tspan></text>
<text x="326.4" y="463.5" letter-spacing="0"><tspan font-size="13.2">H</tspan><tspan font-size="10.5">INGE</tspan></text>
<text x="314.9" y="479.0" letter-spacing="0"><tspan font-size="10.5">ASSEMBLY</tspan></text>
<text x="332.9" y="494.2" letter-spacing="0"><tspan font-size="13.2">106</tspan></text>
<text x="387.1" y="481.3" letter-spacing="0"><tspan font-size="13.2">H</tspan><tspan font-size="10.5">INGE</tspan></text>
<text x="392.4" y="496.5" letter-spacing="0"><tspan font-size="13.2">E</tspan><tspan font-size="10.5">ND</tspan></text>
<text x="386.4" y="512.7" letter-spacing="0"><tspan font-size="13.2">108(2)</tspan></text>
<text x="445.5" y="440.0" letter-spacing="0"><tspan font-size="13.2">H</tspan><tspan font-size="10.5">OUSING</tspan></text>
<text x="451.3" y="456.2" letter-spacing="0"><tspan font-size="13.2">114(2)</tspan></text>
<text x="527.5" y="474.7" letter-spacing="0"><tspan font-size="13.2">D</tspan><tspan font-size="10.5">ISTAL</tspan></text>
<text x="534.3" y="490.5" letter-spacing="0"><tspan font-size="13.2">E</tspan><tspan font-size="10.5">ND</tspan></text>
<text x="527.5" y="506.5" letter-spacing="0"><tspan font-size="13.2">110(2)</tspan></text>
<text x="617.3" y="481.4" font-size="22" stroke-width="0.1">FIG. 1</text>
<text x="71.2" y="405.3" font-size="12">z</text>
<text x="49" y="444.5" font-size="12">x</text>
<text x="81.5" y="445.5" font-size="12">y</text>
</g>
</g>
</svg>
</body></html>
